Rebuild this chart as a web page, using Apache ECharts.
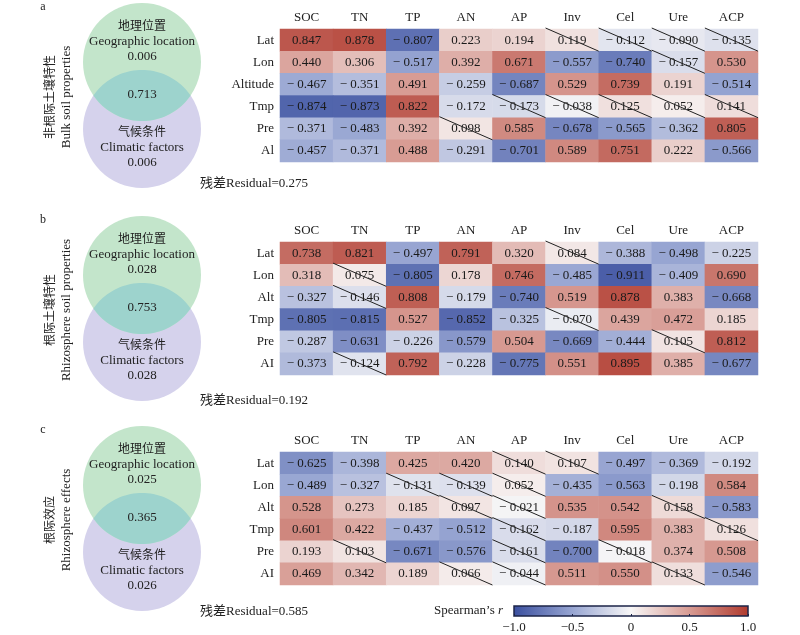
<!DOCTYPE html>
<html>
<head>
<meta charset="utf-8">
<title>Spearman heatmap</title>
<script src="https://cdn.jsdelivr.net/npm/echarts@6/dist/echarts.min.js"></script>
<style>
    html, body {margin: 0; padding: 0; background: #fff;}
    #main {width: 800px; height: 635px;}
</style>
</head>
<body>
<div id="main"></div>
<script>
// 土壤指标 / 环境因子
var cols = ['SOC', 'TN', 'TP', 'AN', 'AP', 'Inv', 'Cel', 'Ure', 'ACP'];
var rowsA = ['Lat', 'Lon', 'Altitude', 'Tmp', 'Pre', 'Al'];
var rowsB = ['Lat', 'Lon', 'Alt', 'Tmp', 'Pre', 'AI'];
var rowsC = ['Lat', 'Lon', 'Alt', 'Tmp', 'Pre', 'AI'];

var bulk = [
    [0.847, 0.878, -0.807, 0.223, 0.194, 0.119, -0.112, -0.090, -0.135],
    [0.440, 0.306, -0.517, 0.392, 0.671, -0.557, -0.740, -0.157, 0.530],
    [-0.467, -0.351, 0.491, -0.259, -0.687, 0.529, 0.739, 0.191, -0.514],
    [-0.874, -0.873, 0.822, -0.172, -0.173, -0.038, 0.125, 0.052, 0.141],
    [-0.371, -0.483, 0.392, 0.098, 0.585, -0.678, -0.565, -0.362, 0.805],
    [-0.457, -0.371, 0.488, -0.291, -0.701, 0.589, 0.751, 0.222, -0.566]
];
var rhizo = [
    [0.738, 0.821, -0.497, 0.791, 0.320, 0.084, -0.388, -0.498, -0.225],
    [0.318, 0.075, -0.805, 0.178, 0.746, -0.485, -0.911, -0.409, 0.690],
    [-0.327, -0.146, 0.808, -0.179, -0.740, 0.519, 0.878, 0.383, -0.668],
    [-0.805, -0.815, 0.527, -0.852, -0.325, -0.070, 0.439, 0.472, 0.185],
    [-0.287, -0.631, -0.226, -0.579, 0.504, -0.669, -0.444, 0.105, 0.812],
    [-0.373, -0.124, 0.792, -0.228, -0.775, 0.551, 0.895, 0.385, -0.677]
];
var effect = [
    [-0.625, -0.398, 0.425, 0.420, 0.140, 0.107, -0.497, -0.369, -0.192],
    [-0.489, -0.327, -0.131, -0.139, 0.052, -0.435, -0.563, -0.198, 0.584],
    [0.528, 0.273, 0.185, 0.097, -0.021, 0.535, 0.542, 0.158, -0.583],
    [0.601, 0.422, -0.437, -0.512, -0.162, -0.187, 0.595, 0.383, 0.126],
    [0.193, 0.103, -0.671, -0.576, -0.161, -0.700, -0.018, 0.374, 0.508],
    [0.469, 0.342, 0.189, 0.066, -0.044, 0.511, 0.550, 0.133, -0.546]
];

// 不显著的格子 [行, 列]
var nsA = [['Lat', 'Inv'], ['Lat', 'Cel'], ['Lat', 'Ure'], ['Lat', 'ACP'], ['Lon', 'Ure'],
    ['Tmp', 'AP'], ['Tmp', 'Inv'], ['Tmp', 'Cel'], ['Tmp', 'Ure'], ['Tmp', 'ACP'], ['Pre', 'AN']];
var nsB = [['Lat', 'Inv'], ['Lon', 'TN'], ['Alt', 'TN'], ['Tmp', 'Inv'], ['Pre', 'Ure'], ['AI', 'TN']];
var nsC = [['Lat', 'AP'], ['Lat', 'Inv'], ['Lon', 'TP'], ['Lon', 'AN'], ['Lon', 'AP'],
    ['Alt', 'AN'], ['Alt', 'AP'], ['Alt', 'Ure'], ['Tmp', 'AP'], ['Tmp', 'ACP'],
    ['Pre', 'TN'], ['Pre', 'AP'], ['Pre', 'Cel'], ['AI', 'AN'], ['AI', 'AP'], ['AI', 'Ure']];

// 方差分解
var panelTags = ['a', 'b', 'c'];
var panelCn = ['非根际土壤特性', '根际土壤特性', '根际效应'];
var panelEn = ['Bulk soil properties', 'Rhizosphere soil properties', 'Rhizosphere effects'];
var geoOnly = [0.006, 0.028, 0.025];
var climOnly = [0.006, 0.028, 0.026];
var shared = [0.713, 0.753, 0.365];
var residual = [0.275, 0.192, 0.585];

var cbTicks = [-1, -0.5, 0, 0.5, 1];
var cbColors = ['#3a4f9f', '#97a5d2', '#f8f7f7', '#d79a92', '#b03a2e'];

var serif = 'Liberation Serif, "Noto Sans CJK SC", serif';
var offsets = [0, 213, 423];

function fmt(v) {
    return v < 0 ? '\u2212 ' + Math.abs(v).toFixed(3) : v.toFixed(3);
}

function cellData(mat) {
    let out = [];
    for (let r = 0; r < mat.length; r++) {
        for (let c = 0; c < mat[r].length; c++) {
            out.push([c, r, mat[r][c]]);
        }
    }
    return out;
}

function nsData(list, rows) {
    return list.map(function (p) {
        return [cols.indexOf(p[1]), rows.indexOf(p[0])];
    });
}

// 两圆相交的透镜区域
function lensPoints(cx, y1, y2, r) {
    let pts = [];
    let h = (y2 - y1) / 2;
    let a = Math.acos(h / r);
    for (let k = 0; k <= 40; k++) {
        let t = Math.PI / 2 + a - 2 * a * k / 40;
        pts.push([cx + r * Math.cos(t + Math.PI), y2 + r * Math.sin(t + Math.PI)]);
    }
    for (let k = 0; k <= 40; k++) {
        let t = Math.PI / 2 - a + 2 * a * k / 40;
        pts.push([cx + r * Math.cos(t), y1 + r * Math.sin(t)]);
    }
    return pts;
}

function buildVenn(i) {
    let dy = offsets[i];
    let cx = 142, r = 59, y1 = 62 + dy, y2 = 129 + dy;
    let txt = function (x, y, s, size) {
        return {type: 'text', x: x, y: y, style: {text: s, font: (size || 13) + 'px ' + serif, fill: '#222', align: 'center', verticalAlign: 'middle'}};
    };
    let items = [
        {type: 'circle', shape: {cx: cx, cy: y2, r: r}, style: {fill: '#d5d2ec'}},
        {type: 'circle', shape: {cx: cx, cy: y1, r: r}, style: {fill: '#c3e5cb'}},
        {type: 'polygon', shape: {points: lensPoints(cx, y1, y2, r)}, style: {fill: '#9dd3cd'}},
        txt(cx, 27 + dy, '地理位置', 12),
        txt(cx, 42 + dy, 'Geographic location'),
        txt(cx, 57 + dy, geoOnly[i].toFixed(3)),
        txt(cx, 95 + dy, shared[i].toFixed(3)),
        txt(cx, 133 + dy, '气候条件', 12),
        txt(cx, 148 + dy, 'Climatic factors'),
        txt(cx, 163 + dy, climOnly[i].toFixed(3)),
        txt(43, 7 + dy, panelTags[i], 12),
        {type: 'text', x: 200, y: [184, 401, 612][i], style: {text: '残差Residual=' + residual[i].toFixed(3), font: '13px ' + serif, fill: '#222', verticalAlign: 'middle'}},
        {type: 'text', x: 51, y: 97 + dy, rotation: Math.PI / 2, style: {text: panelCn[i], font: '12px ' + serif, fill: '#222', align: 'center', verticalAlign: 'middle'}},
        {type: 'text', x: 67, y: 97 + dy, rotation: Math.PI / 2, style: {text: panelEn[i], font: '13px ' + serif, fill: '#222', align: 'center', verticalAlign: 'middle'}}
    ];
    return items;
}

var dom = document.getElementById('main');
var myChart = echarts.init(dom);

var mats = [bulk, rhizo, effect];
var rowSets = [rowsA, rowsB, rowsC];
var nsSets = [nsA, nsB, nsC];

var grids = [], xAxes = [], yAxes = [], series = [];
for (let i = 0; i < 3; i++) {
    grids.push({left: 280, top: 29 + offsets[i], width: 478, height: 133});
    xAxes.push({
        type: 'category', gridIndex: i, data: cols, position: 'top',
        axisLine: {show: false}, axisTick: {show: false}, splitLine: {show: false},
        axisLabel: {margin: 5, fontFamily: serif, fontSize: 13, color: '#222'}
    });
    yAxes.push({
        type: 'category', gridIndex: i, data: rowSets[i], inverse: true,
        axisLine: {show: false}, axisTick: {show: false}, splitLine: {show: false},
        axisLabel: {margin: 6, fontFamily: serif, fontSize: 13, color: '#222'}
    });
}
for (let i = 0; i < 3; i++) {
    series.push({
        type: 'heatmap', xAxisIndex: i, yAxisIndex: i, data: cellData(mats[i]),
        label: {
            show: true, fontFamily: serif, fontSize: 13, color: '#1a1a1a',
            formatter: function (p) { return fmt(p.value[2]); }
        },
        itemStyle: {borderWidth: 0},
        emphasis: {disabled: true}
    });
}
for (let i = 0; i < 3; i++) {
    series.push({
        type: 'custom', xAxisIndex: i, yAxisIndex: i, z: 5, silent: true,
        data: nsData(nsSets[i], rowSets[i]),
        renderItem: function (params, api) {
            let c = api.coord([api.value(0), api.value(1)]);
            let s = api.size([1, 1]);
            return {
                type: 'line',
                shape: {x1: c[0] - s[0] / 2, y1: c[1] - s[1] / 2 - 1, x2: c[0] + s[0] / 2, y2: c[1] + s[1] / 2},
                style: {stroke: '#222', lineWidth: 1}
            };
        }
    });
}

// 色条
var cbStops = cbColors.map(function (c, k) {
    return {offset: k / (cbColors.length - 1), color: c};
});
grids.push({
    left: 514, top: 606, width: 234, height: 10, show: true,
    borderColor: '#1c2448', borderWidth: 1.5,
    backgroundColor: {type: 'linear', x: 0, y: 0, x2: 1, y2: 0, colorStops: cbStops}
});
xAxes.push({
    type: 'value', gridIndex: 3, min: -1, max: 1, interval: 0.5, position: 'bottom',
    axisLine: {show: false}, splitLine: {show: false},
    axisTick: {show: true, inside: true, length: 2, lineStyle: {color: '#1c2448'}},
    axisLabel: {
        margin: 5, fontFamily: serif, fontSize: 13, color: '#222',
        formatter: function (v) { return v === 0 ? '0' : (v < 0 ? '\u2212' : '') + Math.abs(v).toFixed(1); }
    }
});
yAxes.push({type: 'value', gridIndex: 3, show: false, min: 0, max: 1});

var graphics = [];
for (let i = 0; i < 3; i++) graphics = graphics.concat(buildVenn(i));
graphics.push({
    type: 'text', x: 503, y: 611,
    style: {
        text: '{n|Spearman\u2019s }{r|r}', align: 'right', verticalAlign: 'middle',
        rich: {
            n: {fontFamily: serif, fontSize: 13, fill: '#222'},
            r: {fontFamily: serif, fontSize: 13, fontStyle: 'italic', fill: '#222'}
        }
    }
});

var option = {
    backgroundColor: '#fff',
    animation: false,
    grid: grids,
    xAxis: xAxes,
    yAxis: yAxes,
    visualMap: {
        type: 'continuous', show: false, min: -1, max: 1, seriesIndex: [0, 1, 2],
        inRange: {color: cbColors}
    },
    graphic: graphics,
    series: series
};
myChart.setOption(option);
</script>
</body>
</html>
